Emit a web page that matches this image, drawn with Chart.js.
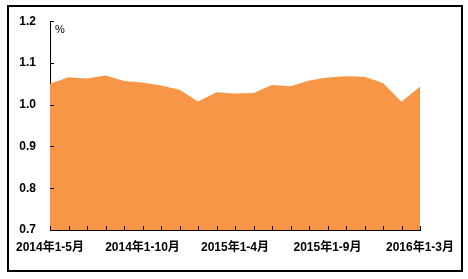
<!DOCTYPE html>
<html>
<head>
<meta charset="utf-8">
<script src="https://cdn.jsdelivr.net/npm/chart.js@4/dist/chart.umd.min.js"></script>
<style>
html,body{margin:0;padding:0;background:#fff;}
#wrap{width:468px;height:279px;position:relative;}
</style>
</head>
<body>
<div id="wrap"><canvas id="c" width="468" height="279"></canvas></div>
<script>
const months = [
  "2014年1-5月","2014年1-6月","2014年1-7月","2014年1-8月","2014年1-9月","2014年1-10月","2014年1-11月","2014年1-12月",
  "2015年1-2月","2015年1-3月","2015年1-4月","2015年1-5月","2015年1-6月","2015年1-7月","2015年1-8月","2015年1-9月",
  "2015年1-10月","2015年1-11月","2015年1-12月","2016年1-2月","2016年1-3月"
];
const values = [1.050,1.066,1.063,1.070,1.057,1.053,1.046,1.036,1.008,1.030,1.027,1.028,1.047,1.044,1.058,1.065,1.068,1.067,1.052,1.007,1.043];
const shownLabels = ["2014年1-5月","2014年1-10月","2015年1-4月","2015年1-9月","2016年1-3月"];
const yUnit = "%";

const FONT = "'Liberation Sans', Arial, 'Noto Sans CJK SC', sans-serif";

const deco = {
  id: 'deco',
  afterDraw(chart) {
    const ctx = chart.ctx;
    const a = chart.chartArea;
    const xs = chart.scales.x, ys = chart.scales.y;
    ctx.save();
    ctx.strokeStyle = '#000';
    ctx.lineWidth = 1;
    // inward ticks x
    ctx.beginPath();
    for (let i = 0; i < months.length; i++) {
      const px = Math.round(xs.getPixelForValue(i)) + 0.5;
      ctx.moveTo(px, a.bottom);
      ctx.lineTo(px, a.bottom - 4);
    }
    // inward ticks y
    ys.ticks.forEach(t => {
      const py = Math.round(ys.getPixelForValue(t.value)) + 0.5;
      ctx.moveTo(a.left, py);
      ctx.lineTo(a.left + 4, py);
    });
    ctx.stroke();
    // frame
    ctx.lineWidth = 2;
    ctx.strokeRect(8, 6, 454, 265);
    // unit
    ctx.fillStyle = '#000';
    ctx.font = "11px " + FONT;
    ctx.textAlign = 'left';
    ctx.textBaseline = 'middle';
    ctx.fillText(yUnit, a.left + 5, a.top + 9);
    ctx.restore();
  }
};

new Chart(document.getElementById('c'), {
  type: 'line',
  data: {
    labels: months,
    datasets: [{
      data: values,
      fill: 'start',
      backgroundColor: 'rgb(247,150,70)',
      borderWidth: 0,
      borderColor: 'rgba(0,0,0,0)',
      pointRadius: 0,
      tension: 0
    }]
  },
  options: {
    responsive: false,
    animation: false,
    devicePixelRatio: 1,
    layout: { padding: { top: 15, right: 48, left: 0, bottom: 0 } },
    plugins: { legend: { display: false }, tooltip: { enabled: false } },
    scales: {
      x: {
        type: 'category',
        offset: false,
        grid: { display: true, drawOnChartArea: false, drawTicks: false },
        border: { display: true, color: '#000', width: 1 },
        ticks: {
          autoSkip: false,
          maxRotation: 0,
          minRotation: 0,
          padding: 10,
          color: '#000',
          font: { family: FONT, size: 12, weight: 'bold' },
          callback: (v, i) => shownLabels.includes(months[i]) ? months[i] : ''
        },
        afterFit: s => { s.height = 49; }
      },
      y: {
        min: 0.7,
        max: 1.2,
        grid: { display: true, drawOnChartArea: false, drawTicks: false },
        border: { display: true, color: '#000', width: 1 },
        ticks: {
          stepSize: 0.1,
          padding: 14,
          color: '#000',
          font: { family: FONT, size: 12, weight: 'bold' },
          callback: v => Number(v).toFixed(1)
        },
        afterFit: s => { s.width = 50; }
      }
    }
  },
  plugins: [deco]
});
</script>
</body>
</html>
